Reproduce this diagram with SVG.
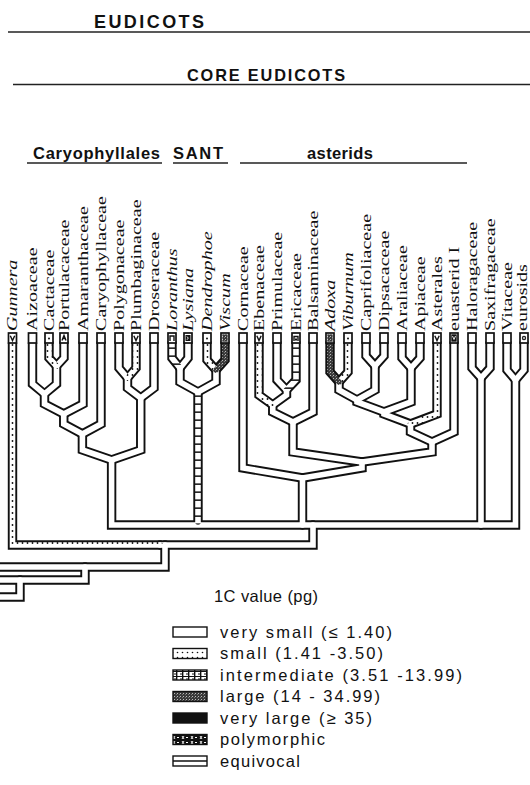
<svg xmlns="http://www.w3.org/2000/svg" xmlns:xlink="http://www.w3.org/1999/xlink" width="530" height="785" viewBox="0 0 530 785">
<style>
.hd{font-family:"Liberation Sans",Arial,sans-serif;font-weight:bold;fill:#111}
.lab{font-family:"Liberation Serif","Times New Roman",serif;font-size:15px;fill:#111}
.it{font-style:italic}
.lg{font-family:"Liberation Sans",Arial,sans-serif;font-size:16.5px;fill:#111}
.rule{stroke:#222;stroke-width:1.6;fill:none}
.o{fill:none;stroke:#111;stroke-width:9.4;stroke-linecap:round;stroke-linejoin:miter}
.w{fill:none;stroke:#fff;stroke-width:5.6;stroke-linecap:round;stroke-linejoin:miter}
.dt{stroke:url(#pd)}
.ld{stroke:url(#pl)}
.dk{stroke:url(#pk)}
.box{fill:#fff;stroke:#111;stroke-width:1.7}
.mk{fill:none;stroke:#111;stroke-width:1.4}
.sw{stroke:#111;stroke-width:1.4}
</style>
<defs>
<pattern id="pd" width="5" height="6" patternUnits="userSpaceOnUse"><rect width="5" height="6" fill="#fff"/><circle cx="2.5" cy="3" r="0.9" fill="#111"/></pattern>
<pattern id="pl" width="10" height="8" patternUnits="userSpaceOnUse"><rect width="10" height="8" fill="#fff"/><rect y="3.4" width="10" height="1.5" fill="#111"/></pattern>
<pattern id="pk" width="3" height="3" patternUnits="userSpaceOnUse"><rect width="3" height="3" fill="#3a3a3a"/><rect x="0" y="0" width="1" height="1" fill="#bbb"/><rect x="2" y="1" width="1" height="1" fill="#777"/></pattern>
<pattern id="psm" width="5" height="5" patternUnits="userSpaceOnUse"><rect width="5" height="5" fill="#fff"/><circle cx="2.5" cy="2.5" r="0.8" fill="#111"/></pattern>
<pattern id="pin" width="6" height="5" patternUnits="userSpaceOnUse"><rect width="6" height="5" fill="#fff"/><rect y="1" width="6" height="1" fill="#111"/><rect x="2" y="0" width="1.4" height="5" fill="#111"/><rect y="3.5" width="3" height="1" fill="#111"/></pattern>
<pattern id="ppo" width="9" height="5" patternUnits="userSpaceOnUse"><rect width="9" height="5" fill="#111"/><path d="M2,1 L4,4 M4,1 L2,4" stroke="#fff" stroke-width="0.9"/><rect x="6" y="2" width="2" height="1" fill="#fff"/></pattern>

<path id="c1" d="M49,343 V358 L56.5,366"/>
<path id="c2" d="M64,343 V358 L56.5,366"/>
<path id="c3" d="M56.5,366 V384 L44.5,394"/>
<path id="c4" d="M32.5,343 V384 L44.5,394"/>
<path id="c5" d="M44.5,394 V404 L63.75,414"/>
<path id="c6" d="M83,343 V404 L63.75,414"/>
<path id="c7" d="M63.75,414 V424 L82.4,434"/>
<path id="c8" d="M101,343 V424 L82.4,434"/>
<path id="c9" d="M119,343 V368 L127.5,378"/>
<path id="c10" d="M136,343 V368 L127.5,378"/>
<path id="c11" d="M127.5,378 V388 L140.75,398"/>
<path id="c12" d="M154,343 V388 L140.75,398"/>
<path id="c13" d="M82.4,434 V450 L111.6,460"/>
<path id="c14" d="M140.75,398 V450 L111.6,460"/>
<path id="comb" d="M111.6,460 V525 H515.5 V380"/>
<path id="s1" d="M172,343 V358 L180,368"/>
<path id="s2" d="M188,343 V358 L180,368"/>
<path id="s3" d="M207,343 V360 L216,370"/>
<path id="s4" d="M225,343 V360 L216,370"/>
<path id="s5" d="M180,368 V382 L198,392"/>
<path id="s6" d="M216,370 V382 L198,392"/>
<path id="s7" d="M198,392 V522"/>
<path id="a1" d="M243,343 V468 L302.5,478"/>
<path id="a2" d="M259,343 V395 L272.75,405"/>
<path id="a3" d="M277,343 V380 L286.5,390"/>
<path id="a4" d="M296,343 V380 L286.5,390"/>
<path id="a5" d="M286.5,390 V395 L272.75,405"/>
<path id="a6" d="M272.75,405 V412 L293,422"/>
<path id="a7" d="M313,343 V412 L293,422"/>
<path id="a8" d="M293,422 V452 L362,462"/>
<path id="a9" d="M330,343 V372 L339,382"/>
<path id="a10" d="M348,343 V372 L339,382"/>
<path id="a11" d="M366,343 V356 L375,366"/>
<path id="a12" d="M384,343 V356 L375,366"/>
<path id="a13" d="M339,382 V390 L357,400"/>
<path id="a14" d="M375,366 V390 L357,400"/>
<path id="a15" d="M402,343 V358 L411,368"/>
<path id="a16" d="M420,343 V358 L411,368"/>
<path id="a17" d="M357,400 V402 L384,412"/>
<path id="a18" d="M411,368 V402 L384,412"/>
<path id="a19" d="M384,412 V414 L410.5,424"/>
<path id="a20" d="M437,343 V414 L410.5,424"/>
<path id="a21" d="M410.5,424 V432 L432,442"/>
<path id="a22" d="M454,343 V432 L432,442"/>
<path id="a23" d="M432,442 V452 L362,462"/>
<path id="a24" d="M362,462 V468 L302.5,478"/>
<path id="a25" d="M302.5,478 V525"/>
<path id="r1" d="M472,343 V368 L481,378"/>
<path id="r2" d="M490,343 V368 L481,378"/>
<path id="r3" d="M481,378 V525"/>
<path id="r4" d="M507,343 V370 L515.5,380"/>
<path id="r5" d="M524,343 V370 L515.5,380"/>
<path id="b1" d="M12.5,343 V545 H160"/>
<path id="b2" d="M160,545 H313 V525"/>
<path id="b3" d="M165,545 V567 H-5"/>
<path id="b4" d="M85,567 V580 H-5"/>
<path id="b5" d="M20,580 V597 H-5"/>
</defs>

<g id="headers">
<g id="h-eudicots"><text class="hd" x="94" y="27.5" font-size="18" textLength="110">EUDICOTS</text><line class="rule" x1="8" y1="32" x2="530" y2="32"/></g>
<g id="h-core"><text class="hd" x="187" y="81" font-size="16.3" textLength="158">CORE EUDICOTS</text><line class="rule" x1="13" y1="84.5" x2="530" y2="84.5"/></g>
<g id="h-cary"><text class="hd" x="33" y="159" font-size="16.5" textLength="127">Caryophyllales</text><line class="rule" x1="27" y1="163" x2="162" y2="163"/></g>
<g id="h-sant"><text class="hd" x="173" y="159" font-size="16.5" textLength="50">SANT</text><line class="rule" x1="173" y1="163" x2="228" y2="163"/></g>
<g id="h-asterids"><text class="hd" x="307" y="158.5" font-size="16.5" textLength="66">asterids</text><line class="rule" x1="240" y1="163" x2="467" y2="163"/></g>
</g>

<g id="connectors">
<g class="o">
<use xlink:href="#b1"/><use xlink:href="#b2"/><use xlink:href="#b3"/><use xlink:href="#b4"/><use xlink:href="#b5"/>
<use xlink:href="#comb"/>
<use xlink:href="#c1"/><use xlink:href="#c2"/><use xlink:href="#c3"/><use xlink:href="#c4"/><use xlink:href="#c5"/><use xlink:href="#c6"/><use xlink:href="#c7"/><use xlink:href="#c8"/><use xlink:href="#c9"/><use xlink:href="#c10"/><use xlink:href="#c11"/><use xlink:href="#c12"/><use xlink:href="#c13"/><use xlink:href="#c14"/>
<use xlink:href="#s1"/><use xlink:href="#s2"/><use xlink:href="#s3"/><use xlink:href="#s4"/><use xlink:href="#s5"/><use xlink:href="#s6"/><use xlink:href="#s7"/>
<use xlink:href="#a1"/><use xlink:href="#a2"/><use xlink:href="#a3"/><use xlink:href="#a4"/><use xlink:href="#a5"/><use xlink:href="#a6"/><use xlink:href="#a7"/><use xlink:href="#a8"/><use xlink:href="#a9"/><use xlink:href="#a10"/><use xlink:href="#a11"/><use xlink:href="#a12"/><use xlink:href="#a13"/><use xlink:href="#a14"/><use xlink:href="#a15"/><use xlink:href="#a16"/><use xlink:href="#a17"/><use xlink:href="#a18"/><use xlink:href="#a19"/><use xlink:href="#a20"/><use xlink:href="#a21"/><use xlink:href="#a22"/><use xlink:href="#a23"/><use xlink:href="#a24"/><use xlink:href="#a25"/>
<use xlink:href="#r1"/><use xlink:href="#r2"/><use xlink:href="#r3"/><use xlink:href="#r4"/><use xlink:href="#r5"/>
</g>
<g class="w">
<use xlink:href="#b2"/><use xlink:href="#b3"/><use xlink:href="#b4"/><use xlink:href="#b5"/>
<use xlink:href="#comb"/>
<use xlink:href="#c2"/><use xlink:href="#c3"/><use xlink:href="#c4"/><use xlink:href="#c5"/><use xlink:href="#c6"/><use xlink:href="#c7"/><use xlink:href="#c8"/><use xlink:href="#c9"/><use xlink:href="#c11"/><use xlink:href="#c12"/><use xlink:href="#c13"/><use xlink:href="#c14"/>
<use xlink:href="#s2"/><use xlink:href="#s5"/><use xlink:href="#s6"/>
<use xlink:href="#a1"/><use xlink:href="#a3"/><use xlink:href="#a5"/><use xlink:href="#a6"/><use xlink:href="#a7"/><use xlink:href="#a8"/><use xlink:href="#a11"/><use xlink:href="#a12"/><use xlink:href="#a13"/><use xlink:href="#a14"/><use xlink:href="#a15"/><use xlink:href="#a16"/><use xlink:href="#a17"/><use xlink:href="#a18"/><use xlink:href="#a19"/><use xlink:href="#a21"/><use xlink:href="#a22"/><use xlink:href="#a23"/><use xlink:href="#a24"/><use xlink:href="#a25"/>
<use xlink:href="#r1"/><use xlink:href="#r2"/><use xlink:href="#r3"/><use xlink:href="#r4"/><use xlink:href="#r5"/>
</g>
<g class="w dt">
<use xlink:href="#b1"/><use xlink:href="#c1"/><use xlink:href="#c10"/><use xlink:href="#s3"/><use xlink:href="#a2"/><use xlink:href="#a10"/><use xlink:href="#a20"/>
</g>
<g class="w ld">
<use xlink:href="#s1"/><use xlink:href="#s7"/><use xlink:href="#a4"/>
</g>
<g class="w dk">
<use xlink:href="#s4"/><use xlink:href="#a9"/>
</g>
</g>

<g id="leaves">
<g id="leaf-gunnera"><rect class="box" x="8.5" y="333" width="8" height="10"/><path class="mk" d="M10.3,335.8 L12.5,340.5 L14.7,335.8"/><text class="lab it" transform="translate(17,331) rotate(-90) scale(1.34,1)">Gunnera</text></g>
<g id="leaf-aizoaceae"><rect class="box" x="28.5" y="333" width="8" height="10"/><text class="lab" transform="translate(37,331) rotate(-90) scale(1.34,1)">Aizoaceae</text></g>
<g id="leaf-cactaceae"><rect class="box" x="45" y="333" width="8" height="10"/><circle cx="49" cy="338.5" r="1" fill="#111"/><text class="lab" transform="translate(53.5,331) rotate(-90) scale(1.34,1)">Cactaceae</text></g>
<g id="leaf-portulacaceae"><rect class="box" x="60" y="333" width="8" height="10"/><path class="mk" d="M62,340.5 L64,335.5 L66,340.5 M62.8,338.5 H65.2"/><text class="lab" transform="translate(68.5,331) rotate(-90) scale(1.34,1)">Portulacaceae</text></g>
<g id="leaf-amaranthaceae"><rect class="box" x="79" y="333" width="8" height="10"/><text class="lab" transform="translate(87.5,331) rotate(-90) scale(1.34,1)">Amaranthaceae</text></g>
<g id="leaf-caryophyllaceae"><rect class="box" x="97" y="333" width="8" height="10"/><text class="lab" transform="translate(105.5,331) rotate(-90) scale(1.34,1)">Caryophyllaceae</text></g>
<g id="leaf-polygonaceae"><rect class="box" x="115" y="333" width="8" height="10"/><text class="lab" transform="translate(123.5,331) rotate(-90) scale(1.34,1)">Polygonaceae</text></g>
<g id="leaf-plumbaginaceae"><rect class="box" x="132" y="333" width="8" height="10"/><path class="mk" d="M133.8,335.8 L136,340.5 L138.2,335.8"/><text class="lab" transform="translate(140.5,331) rotate(-90) scale(1.34,1)">Plumbaginaceae</text></g>
<g id="leaf-droseraceae"><rect class="box" x="150" y="333" width="8" height="10"/><text class="lab" transform="translate(158.5,331) rotate(-90) scale(1.34,1)">Droseraceae</text></g>
<g id="leaf-loranthus"><rect class="box" x="168" y="333" width="8" height="10"/><path class="mk" d="M170,341 V336 H174 V341"/><text class="lab it" transform="translate(176.5,331) rotate(-90) scale(1.34,1)">Loranthus</text></g>
<g id="leaf-lysiana"><rect class="box" x="184" y="333" width="8" height="10"/><rect x="185.5" y="335" width="5" height="6" fill="#111"/><path d="M187,336.5 Q189.5,338 187,339.8" stroke="#fff" stroke-width="0.9" fill="none"/><text class="lab it" transform="translate(192.5,331) rotate(-90) scale(1.34,1)">Lysiana</text></g>
<g id="leaf-dendrophoe"><rect class="box" x="203" y="333" width="8" height="10"/><circle cx="207" cy="338.5" r="1" fill="#111"/><text class="lab it" transform="translate(211.5,331) rotate(-90) scale(1.34,1)">Dendrophoe</text></g>
<g id="leaf-viscum"><rect class="box" x="221" y="333" width="8" height="10"/><rect x="222.3" y="334.3" width="5.4" height="7.4" fill="url(#pk)"/><text class="lab it" transform="translate(229.5,331) rotate(-90) scale(1.34,1)">Viscum</text></g>
<g id="leaf-cornaceae"><rect class="box" x="239" y="333" width="8" height="10"/><text class="lab" transform="translate(247.5,331) rotate(-90) scale(1.34,1)">Cornaceae</text></g>
<g id="leaf-ebenaceae"><rect class="box" x="255" y="333" width="8" height="10"/><path class="mk" d="M256.8,335.8 L259,340.5 L261.2,335.8"/><text class="lab" transform="translate(263.5,331) rotate(-90) scale(1.34,1)">Ebenaceae</text></g>
<g id="leaf-primulaceae"><rect class="box" x="273" y="333" width="8" height="10"/><text class="lab" transform="translate(281.5,331) rotate(-90) scale(1.34,1)">Primulaceae</text></g>
<g id="leaf-ericaceae"><rect class="box" x="292" y="333" width="8" height="10"/><path class="mk" d="M294,341 V336.5 H298 V341"/><rect x="295" y="338.5" width="2" height="2" fill="#111"/><text class="lab" transform="translate(300.5,331) rotate(-90) scale(1.34,1)">Ericaceae</text></g>
<g id="leaf-balsaminaceae"><rect class="box" x="309" y="333" width="8" height="10"/><text class="lab" transform="translate(317.5,331) rotate(-90) scale(1.34,1)">Balsaminaceae</text></g>
<g id="leaf-adoxa"><rect class="box" x="326" y="333" width="8" height="10"/><rect x="327.3" y="334.3" width="5.4" height="7.4" fill="url(#pk)"/><text class="lab it" transform="translate(334.5,331) rotate(-90) scale(1.34,1)">Adoxa</text></g>
<g id="leaf-viburnum"><rect class="box" x="344" y="333" width="8" height="10"/><circle cx="348" cy="338.5" r="1" fill="#111"/><text class="lab it" transform="translate(352.5,331) rotate(-90) scale(1.34,1)">Viburnum</text></g>
<g id="leaf-caprifoliaceae"><rect class="box" x="362" y="333" width="8" height="10"/><text class="lab" transform="translate(370.5,331) rotate(-90) scale(1.34,1)">Caprifoliaceae</text></g>
<g id="leaf-dipsacaceae"><rect class="box" x="380" y="333" width="8" height="10"/><text class="lab" transform="translate(388.5,331) rotate(-90) scale(1.34,1)">Dipsacaceae</text></g>
<g id="leaf-araliaceae"><rect class="box" x="398" y="333" width="8" height="10"/><text class="lab" transform="translate(406.5,331) rotate(-90) scale(1.34,1)">Araliaceae</text></g>
<g id="leaf-apiaceae"><rect class="box" x="416" y="333" width="8" height="10"/><text class="lab" transform="translate(424.5,331) rotate(-90) scale(1.34,1)">Apiaceae</text></g>
<g id="leaf-asterales"><rect class="box" x="433" y="333" width="8" height="10"/><path class="mk" d="M434.8,335.8 L437,340.5 L439.2,335.8"/><text class="lab" transform="translate(441.5,331) rotate(-90) scale(1.34,1)">Asterales</text></g>
<g id="leaf-euasterid1"><rect class="box" x="450" y="333" width="8" height="10"/><rect x="451.3" y="334.3" width="5.4" height="7.4" fill="#111"/><path d="M452.5,336 L454,339.5 L455.5,336" stroke="#fff" stroke-width="0.9" fill="none"/><text class="lab" transform="translate(458.5,331) rotate(-90) scale(1.34,1)">euasterid I</text></g>
<g id="leaf-haloragaceae"><rect class="box" x="468" y="333" width="8" height="10"/><text class="lab" transform="translate(476.5,331) rotate(-90) scale(1.34,1)">Haloragaceae</text></g>
<g id="leaf-saxifragaceae"><rect class="box" x="486" y="333" width="8" height="10"/><text class="lab" transform="translate(494.5,331) rotate(-90) scale(1.34,1)">Saxifragaceae</text></g>
<g id="leaf-vitaceae"><rect class="box" x="503" y="333" width="8" height="10"/><text class="lab" transform="translate(511.5,331) rotate(-90) scale(1.34,1)">Vitaceae</text></g>
<g id="leaf-eurosids"><rect class="box" x="520" y="333" width="8" height="10"/><circle cx="524" cy="338" r="2.2" fill="#111"/><path d="M522.8,338 H525.2 M524,336.8 V339.2" stroke="#fff" stroke-width="0.8"/><text class="lab" transform="translate(526.5,331) rotate(-90) scale(1.34,1)">eurosids</text></g>
</g>

<g id="legend">
<text class="lg" x="214" y="602" textLength="104">1C value (pg)</text>
<g id="lg-verysmall"><rect class="sw" x="173" y="627" width="34" height="10" fill="#fff"/><text class="lg" x="220" y="637.5" textLength="172">very small (≤ 1.40)</text></g>
<g id="lg-small"><rect class="sw" x="173" y="648.5" width="34" height="10" fill="url(#psm)"/><text class="lg" x="220" y="659" textLength="163">small (1.41 -3.50)</text></g>
<g id="lg-intermediate"><rect class="sw" x="173" y="670" width="34" height="10" fill="url(#pin)"/><text class="lg" x="220" y="680.5" textLength="242">intermediate (3.51 -13.99)</text></g>
<g id="lg-large"><rect class="sw" x="173" y="691.5" width="34" height="10" fill="url(#pk)"/><text class="lg" x="220" y="702" textLength="160">large (14 - 34.99)</text></g>
<g id="lg-verylarge"><rect class="sw" x="173" y="713" width="34" height="10" fill="#111"/><text class="lg" x="220" y="723.5" textLength="152">very large (≥ 35)</text></g>
<g id="lg-polymorphic"><rect class="sw" x="173" y="734.5" width="34" height="10" fill="url(#ppo)"/><text class="lg" x="220" y="745" textLength="105">polymorphic</text></g>
<g id="lg-equivocal"><rect class="sw" x="173" y="756" width="34" height="10" fill="#fff"/><line class="sw" x1="173" y1="761" x2="207" y2="761"/><text class="lg" x="220" y="766.5" textLength="80">equivocal</text></g>
</g>
</svg>
